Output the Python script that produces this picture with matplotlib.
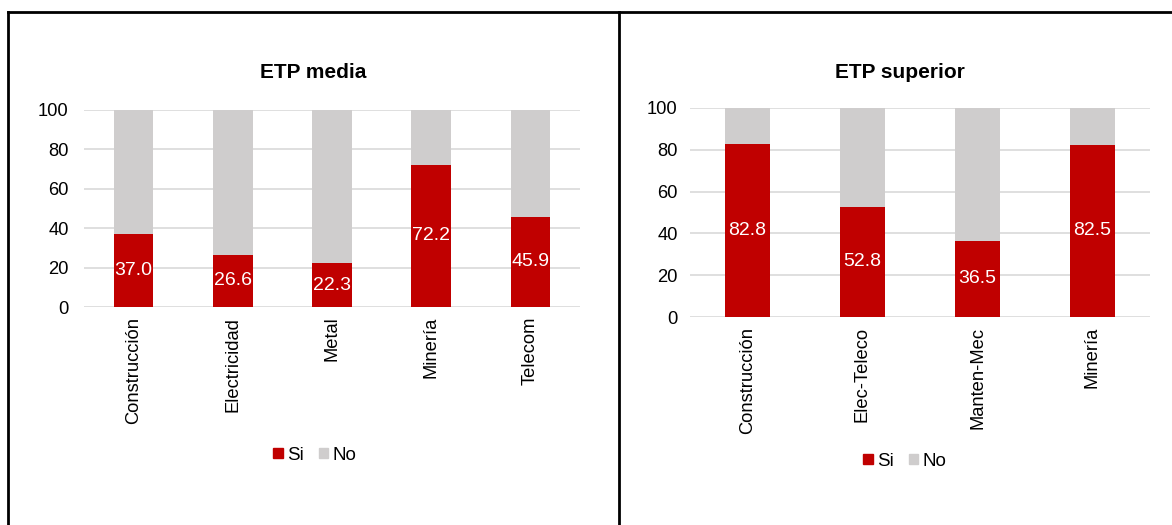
import matplotlib.pyplot as plt
from matplotlib.lines import Line2D
from matplotlib.patches import Patch

plt.rcParams['font.family'] = ['Liberation Sans', 'DejaVu Sans']

# ETP media
media_cats = ['Construcción', 'Electricidad', 'Metal', 'Minería', 'Telecom']
media_si = [37.0, 26.6, 22.3, 72.2, 45.9]

# ETP superior
sup_cats = ['Construcción', 'Elec-Teleco', 'Manten-Mec', 'Minería']
sup_si = [82.8, 52.8, 36.5, 82.5]

RED = '#C00000'
GREY = '#CFCDCD'
GRID = '#D9D9D9'

W, H = 1172, 525
fig = plt.figure(figsize=(W / 100, H / 100), dpi=100)


def px_axes(x0, x1, y_top, y_bot):
    return fig.add_axes([x0 / W, 1 - y_bot / H, (x1 - x0) / W, (y_bot - y_top) / H])


def stacked(ax, cats, si, width, ypad):
    no = [100 - v for v in si]
    x = range(len(cats))
    ax.bar(x, si, width=width, color=RED, zorder=3)
    ax.bar(x, no, bottom=si, width=width, color=GREY, zorder=3)
    for xi, v in zip(x, si):
        ax.text(xi, v / 2, f'{v:.1f}', ha='center', va='center',
                color='white', fontsize=14, zorder=4)
    ax.set_xlim(-0.5, len(cats) - 0.5)
    ax.set_ylim(0, 100)
    ax.set_yticks(range(0, 101, 20))
    ax.set_xticks(list(x))
    ax.set_xticklabels(cats, rotation=90)
    ax.grid(axis='y', color=GRID, linewidth=1.2, zorder=0)
    for s in ax.spines.values():
        s.set_visible(False)
    ax.tick_params(length=0, labelsize=13.2, colors='#000000')
    ax.tick_params(axis='y', pad=ypad)
    ax.tick_params(axis='x', pad=7)


ax1 = px_axes(84, 580, 110, 307)
stacked(ax1, media_cats, media_si, 0.40, 11)
ax2 = px_axes(690, 1150, 108, 317)
stacked(ax2, sup_cats, sup_si, 0.39, 9)

fig.text(313 / W, 1 - 73 / H, 'ETP media', ha='center', va='center',
         fontsize=15, fontweight='bold')
fig.text(900 / W, 1 - 73 / H, 'ETP superior', ha='center', va='center',
         fontsize=15, fontweight='bold')

handles = [Patch(color=RED, label='Si'), Patch(color=GREY, label='No')]
for cx, cy in [(315, 455), (905, 461)]:
    fig.legend(handles=handles, loc='center', bbox_to_anchor=(cx / W, 1 - cy / H),
               ncol=2, frameon=False, fontsize=13.5, handlelength=0.5,
               handleheight=0.5, handletextpad=0.25, columnspacing=0.8)

# surrounding frame
frame = dict(color='black', linewidth=2, transform=fig.transFigure)
fig.add_artist(Line2D([8 / W, 1], [1 - 12 / H] * 2, **frame))
fig.add_artist(Line2D([8 / W] * 2, [0, 1 - 12 / H], **frame))
fig.add_artist(Line2D([619 / W] * 2, [0, 1 - 12 / H], **frame))

fig.savefig('out.png', dpi=100)
